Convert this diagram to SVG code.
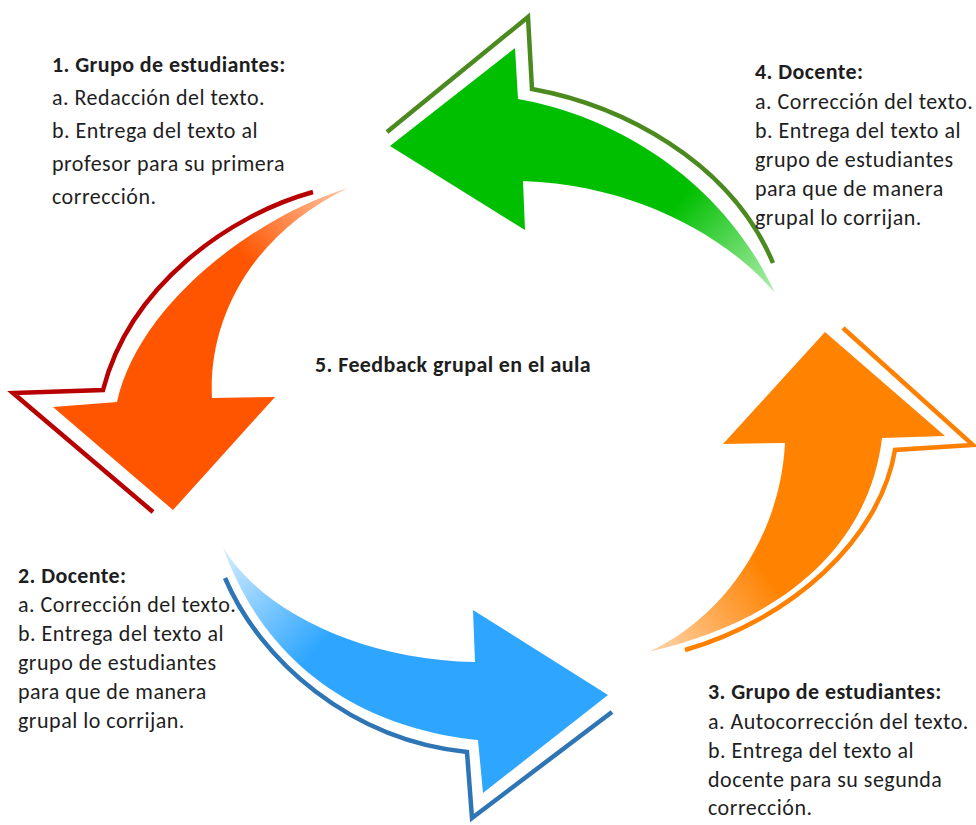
<svg xmlns="http://www.w3.org/2000/svg" width="976" height="825" viewBox="0 0 976 825">
<defs>
<linearGradient id="gGreen" gradientUnits="userSpaceOnUse" x1="680" y1="200" x2="778" y2="295">
<stop offset="0" stop-color="#00bf00"/><stop offset="1" stop-color="#b4f0b4"/>
</linearGradient>
<linearGradient id="gRed" gradientUnits="userSpaceOnUse" x1="345" y1="190" x2="255" y2="270">
<stop offset="0" stop-color="#ffc6a4"/><stop offset="1" stop-color="#ff5500"/>
</linearGradient>
<linearGradient id="gBlue" gradientUnits="userSpaceOnUse" x1="225" y1="550" x2="325" y2="640">
<stop offset="0" stop-color="#d2ecff"/><stop offset="1" stop-color="#2ea6ff"/>
</linearGradient>
<linearGradient id="gOrange" gradientUnits="userSpaceOnUse" x1="650" y1="652" x2="765" y2="570">
<stop offset="0" stop-color="#ffd6ac"/><stop offset="1" stop-color="#ff8200"/>
</linearGradient>
</defs>
<style>
text{font-family:Carlito,Calibri,Lato,"Liberation Sans",sans-serif;font-size:22px;letter-spacing:0.5px;fill:#1e1e1e}
.b{font-weight:bold;letter-spacing:0.4px}
.o{fill:none;stroke-width:4.5;stroke-linejoin:miter}
</style>
<rect width="976" height="825" fill="#ffffff"/>
<g id="connectors">
<g id="arrow-green">
<path d="M390,146 L515,48 L518,99 C610,115 720,175 775,293 C730,240 640,185 523,181 L525,230 Z" fill="url(#gGreen)"/>
<path class="o" d="M387,132 L528,17 L532,89 C620,105 730,160 773,263" stroke="#4a8a1e"/>
</g>
<g id="arrow-red">
<path d="M348,188 C260,215 140,300 117,402 L53,407 L173,510 L275,397 L212,398 C208,320 250,235 348,188 Z" fill="url(#gRed)"/>
<path class="o" d="M313,192 C230,215 130,285 103,390 L13,393 L153,512" stroke="#b80000"/>
</g>
<g id="arrow-blue">
<path d="M223,547 C260,610 360,660 475,662 L473,610 L608,695 L483,793 L478,740 C380,730 270,680 223,547 Z" fill="url(#gBlue)"/>
<path class="o" d="M225,578 C260,660 350,740 467,752 L472,818 L612,712" stroke="#2e75b6"/>
</g>
<g id="arrow-orange">
<path d="M648,652 C720,620 780,540 785,443 L723,444 L825,332 L945,436 L882,438 C870,540 790,620 648,652 Z" fill="url(#gOrange)"/>
<path class="o" d="M685,650 C790,620 880,540 895,450 L973,445 L843,328" stroke="#ff8000"/>
</g>
</g>
<g id="node1">
<text class="b" x="52" y="72">1. Grupo de estudiantes:</text>
<text x="52" y="105">a. Redacción del texto.</text>
<text x="52" y="138">b. Entrega del texto al</text>
<text x="52" y="171">profesor para su primera</text>
<text x="52" y="204">corrección.</text>
</g>
<g id="node2">
<text class="b" x="18" y="583">2. Docente:</text>
<text x="18" y="612">a. Corrección del texto.</text>
<text x="18" y="641">b. Entrega del texto al</text>
<text x="18" y="670">grupo de estudiantes</text>
<text x="18" y="699">para que de manera</text>
<text x="18" y="728">grupal lo corrijan.</text>
</g>
<g id="node3">
<text class="b" x="708" y="699">3. Grupo de estudiantes:</text>
<text x="708" y="729">a. Autocorrección del texto.</text>
<text x="708" y="758">b. Entrega del texto al</text>
<text x="708" y="787">docente para su segunda</text>
<text x="708" y="815">corrección.</text>
</g>
<g id="node4">
<text class="b" x="755" y="79">4. Docente:</text>
<text x="755" y="109">a. Corrección del texto.</text>
<text x="755" y="138">b. Entrega del texto al</text>
<text x="755" y="167">grupo de estudiantes</text>
<text x="755" y="196">para que de manera</text>
<text x="755" y="225">grupal lo corrijan.</text>
</g>
<g id="node5">
<text class="b" x="315" y="372">5. Feedback grupal en el aula</text>
</g>
</svg>
